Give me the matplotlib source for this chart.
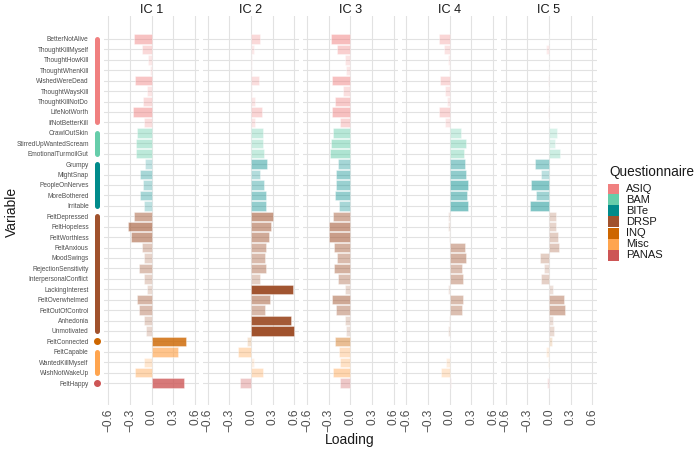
import matplotlib.pyplot as plt
from matplotlib.patches import Rectangle
from matplotlib.colors import to_rgba

plt.rcParams['font.family'] = ['Liberation Sans', 'DejaVu Sans']

variables = ['BetterNotAlive', 'ThoughtKillMyself', 'ThoughtHowKill', 'ThoughtWhenKill',
             'WishedWereDead', 'ThoughtWaysKill', 'ThoughtKillNotDo', 'LifeNotWorth',
             'IfNotBetterKill', 'CrawlOutSkin', 'StirredUpWantedScream', 'EmotionalTurmoilGut',
             'Grumpy', 'MightSnap', 'PeopleOnNerves', 'MoreBothered', 'Irritable',
             'FeltDepressed', 'FeltHopeless', 'FeltWorthless', 'FeltAnxious', 'MoodSwings',
             'RejectionSensitivity', 'InterpersonalConflict', 'LackingInterest',
             'FeltOverwhelmed', 'FeltOutOfControl', 'Anhedonia', 'Unmotivated',
             'FeltConnected', 'FeltCapable', 'WantedKillMyself', 'WishNotWakeUp', 'FeltHappy']
groups = ['ASIQ'] * 9 + ['BAM'] * 3 + ['BITe'] * 5 + ['DRSP'] * 12 + ['INQ'] + ['Misc'] * 3 + ['PANAS']

ic1 = [-0.245, -0.13, -0.055, -0.03, -0.23, -0.065, -0.125, -0.26, -0.105,
       -0.21, -0.22, -0.22, -0.09, -0.16, -0.125, -0.16, -0.105,
       -0.25, -0.33, -0.29, -0.14, -0.10, -0.17, -0.10, -0.07, -0.21, -0.18, -0.10, -0.08,
       0.47, 0.365, -0.11, -0.23, 0.45]
ic2 = [0.13, 0.045, 0.015, 0.01, 0.105, 0.02, 0.06, 0.15, 0.06,
       0.17, 0.16, 0.18, 0.225, 0.13, 0.175, 0.21, 0.21,
       0.305, 0.27, 0.255, 0.21, 0.19, 0.21, 0.12, 0.58, 0.26, 0.20, 0.56, 0.59,
       -0.055, -0.18, 0.035, 0.16, -0.15]
ic3 = [-0.27, -0.18, -0.07, -0.055, -0.255, -0.10, -0.21, -0.255, -0.15,
       -0.24, -0.27, -0.28, -0.165, -0.20, -0.195, -0.21, -0.16,
       -0.235, -0.30, -0.30, -0.23, -0.19, -0.23, -0.17, -0.075, -0.26, -0.20, -0.075, -0.055,
       -0.21, -0.16, -0.15, -0.235, -0.145]
ic4 = [-0.145, -0.075, -0.02, -0.01, -0.13, -0.065, -0.04, -0.145, -0.06,
       0.155, 0.225, 0.205, 0.21, 0.22, 0.26, 0.235, 0.26,
       -0.02, -0.03, -0.005, 0.21, 0.22, 0.17, 0.19, -0.02, 0.185, 0.175, -0.015, -0.03,
       0.005, 0.0, -0.055, -0.115, 0.02]
ic5 = [0.0, -0.035, 0.0, 0.0, -0.01, -0.005, 0.0, -0.01, 0.0,
       0.105, 0.085, 0.15, -0.20, -0.11, -0.25, -0.175, -0.26,
       0.09, 0.09, 0.12, 0.14, -0.12, -0.065, -0.11, 0.05, 0.21, 0.22, 0.05, 0.07,
       0.045, -0.04, -0.02, 0.0, -0.03]
components = ['IC 1', 'IC 2', 'IC 3', 'IC 4', 'IC 5']
loadings = [ic1, ic2, ic3, ic4, ic5]

questionnaires = ['ASIQ', 'BAM', 'BITe', 'DRSP', 'INQ', 'Misc', 'PANAS']
colours = ['#F08080', '#66CDAA', '#008B8B', '#A0522D', '#CD6600', '#FFA54F', '#CD5555']
col_of = dict(zip(questionnaires, colours))

rows = list(range(len(variables)))
max_abs = max(abs(v) for ic in loadings for v in ic)

fig, axes = plt.subplots(1, 5, figsize=(7, 4.51), dpi=100, sharey=True)
fig.subplots_adjust(left=0.1486, right=0.8524, top=0.9645, bottom=0.102, wspace=0.042)

for ax, name, vals in zip(axes, components, loadings):
    fc = [to_rgba(col_of[g], min(1.0, 0.1 + 0.9 * abs(v) / max_abs)) for g, v in zip(groups, vals)]
    ax.barh(rows, vals, height=0.9, color=fc, edgecolor=(1, 1, 1, 0.6), linewidth=0.4, zorder=2)
    ax.set_xlim(-0.66, 0.66)
    ax.set_ylim(35.1, -2.2)
    ax.set_xticks([-0.6, -0.3, 0.0, 0.3, 0.6])
    ax.set_xticklabels(['\u22120.6', '\u22120.3', '0.0', '0.3', '0.6'], rotation=90)
    ax.set_yticks(rows)
    ax.grid(True, color='#E2E2E2', linewidth=0.8, zorder=0)
    ax.set_axisbelow(True)
    for s in ax.spines.values():
        s.set_visible(False)
    ax.tick_params(length=0, labelsize=8.6, colors='#4D4D4D', pad=2.5)
    ax.set_title(name, fontsize=9.2, color='#1A1A1A', pad=1.5)

ax1 = axes[0]
ax1.set_yticklabels(variables)
ax1.tick_params(axis='y', labelsize=4.7, pad=11)

# questionnaire indicator bars left of first panel
x_ind = -0.66 - 7.2 / 72.2
for q in questionnaires:
    idx = [i for i, g in enumerate(groups) if g == q]
    if len(idx) > 1:
        ax1.plot([x_ind, x_ind], [idx[0], idx[-1]], color=col_of[q], linewidth=3.6,
                 solid_capstyle='round', clip_on=False, zorder=3)
    else:
        ax1.plot([x_ind], [idx[0]], marker='o', markersize=4, color=col_of[q],
                 clip_on=False, zorder=3)

fig.text(350 / 700, 1 - 440 / 451, 'Loading', ha='center', va='center', fontsize=10, color='#1A1A1A')
fig.text(12 / 700, 1 - 212 / 451, 'Variable', ha='center', va='center', rotation=90,
         fontsize=10, color='#1A1A1A')

# legend
fig.text(609 / 700, 1 - 172 / 451, 'Questionnaire', ha='left', va='center', fontsize=9.8, color='#1A1A1A')
for i, (q, c) in enumerate(zip(questionnaires, colours)):
    y0 = 183.5 + i * 11.0
    fig.patches.append(Rectangle((608 / 700, 1 - (y0 + 11.0) / 451), 10.5 / 700, 11.0 / 451,
                                 transform=fig.transFigure, facecolor=c, edgecolor='none'))
    fig.text(626 / 700, 1 - (y0 + 5.5) / 451, q, ha='left', va='center', fontsize=8, color='#1A1A1A')

fig.savefig('out.png', dpi=100)
